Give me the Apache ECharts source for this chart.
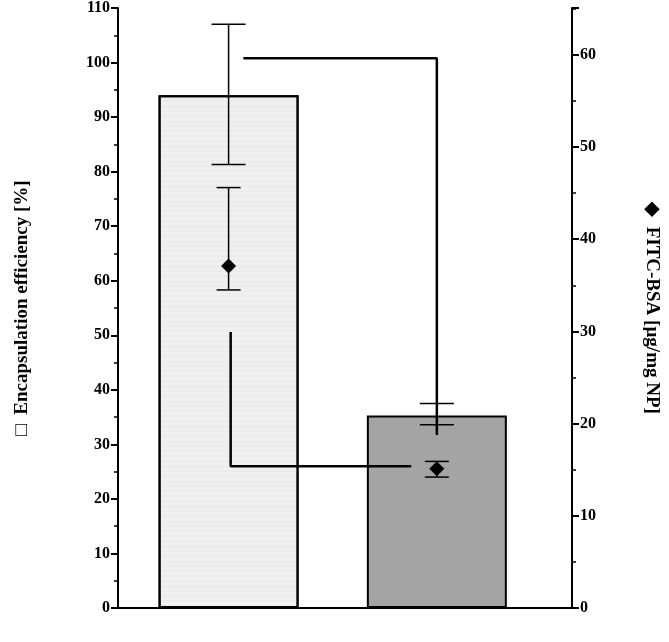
<!DOCTYPE html><html><head><meta charset="utf-8">
<script src="https://cdn.jsdelivr.net/npm/echarts@6/dist/echarts.min.js"></script>
<style>html,body{margin:0;background:#fff}#c{width:669px;height:642px}</style></head><body><div id="c"></div>
<script>
const categories=['CP-FITC-BSA-NP','FITC-BSA-NP'];
const efficiency=[94.0,35.3];
const effErrLow=[81.3,33.6];
const effErrHigh=[107.0,37.5];
const loading=[37.1,15.1];
const loadErrLow=[34.5,14.2];
const loadErrHigh=[45.6,15.9];
const bracket1=[[0.071,100.8],[1.0,100.8],[1.0,31.7]];
const bracket2=[[0.01,50.6],[0.01,26.0],[0.877,26.0]];
const stars=[[0.89,96.5],[0.13,30.5]];
const F='Liberation Serif';
const chart=echarts.init(document.getElementById('c'));
const err=(lo,hi,yi,w)=>({type:'custom',yAxisIndex:yi,z:5,data:lo.map((v,i)=>[i,v,hi[i]]),
 renderItem:(p,api)=>{const a=api.coord([api.value(0),api.value(1)]),b=api.coord([api.value(0),api.value(2)]);
 const s={stroke:'#000',lineWidth:1.5};
 return {type:'group',children:[{type:'line',shape:{x1:a[0],y1:a[1],x2:b[0],y2:b[1]},style:s},
 {type:'line',shape:{x1:a[0]-w,y1:a[1],x2:a[0]+w,y2:a[1]},style:s},
 {type:'line',shape:{x1:b[0]-w,y1:b[1],x2:b[0]+w,y2:b[1]},style:s}]};}});
const yCommon={axisLine:{show:true,onZero:false,lineStyle:{color:'#000',width:2}},axisTick:{show:true,length:7,lineStyle:{width:2}},
 minorTick:{show:true,splitNumber:2,length:4,lineStyle:{color:'#000',width:1.5}},splitLine:{show:false}};
chart.setOption({animation:false,
grid:{left:118,right:91,top:8,bottom:34},
xAxis:{type:'value',min:-0.531,max:1.649,axisLine:{show:true,onZero:false,lineStyle:{color:'#000',width:2}},axisTick:{show:false},axisLabel:{show:false},splitLine:{show:false}},
yAxis:[Object.assign({type:'value',min:0,max:110,interval:10,
 name:'\u25A1  Encapsulation efficiency [%]',nameLocation:'middle',nameGap:86,nameTextStyle:{fontFamily:F,fontWeight:'bold',fontSize:19,color:'#000'},
 axisLabel:{fontFamily:F,fontWeight:'bold',fontSize:16,color:'#000'}},yCommon),
 Object.assign({type:'value',min:0,max:65.08,interval:10,position:'right',
 name:'\u25C6  FITC-BSA [\u00B5g/mg NP]',nameLocation:'middle',nameGap:70,nameRotate:-90,nameTextStyle:{fontFamily:F,fontWeight:'bold',fontSize:19,color:'#000'},
 axisLabel:{fontFamily:F,fontWeight:'bold',fontSize:16,color:'#000',showMaxLabel:false}},yCommon)],
series:[
 {type:'bar',barWidth:140,data:efficiency.map((v,i)=>({value:[i,v],itemStyle:{color:i?'#a4a4a4':'#f0f0f0',
  decal:i?null:{symbol:'circle',symbolSize:0.4,color:'#aaa',dashArrayX:[1,0],dashArrayY:[2,3]}}})),
  itemStyle:{borderColor:'#000',borderWidth:2}},
 err(effErrLow,effErrHigh,0,17),
 err(loadErrLow,loadErrHigh,1,12),
 {type:'scatter',yAxisIndex:1,symbol:'diamond',symbolSize:15,itemStyle:{color:'#000',opacity:1},z:6,data:loading.map((v,i)=>[i,v])},
 {type:'line',data:bracket1,symbol:'none',lineStyle:{color:'#000',width:2.5},z:4},
 {type:'line',data:bracket2,symbol:'none',lineStyle:{color:'#000',width:2.5},z:4},
 {type:'scatter',symbolSize:1,itemStyle:{opacity:0},data:stars,label:{show:true,formatter:'**',fontFamily:F,fontWeight:'bold',fontSize:20,color:'#000',position:'inside'}},
 {type:'scatter',symbolSize:1,itemStyle:{opacity:0},data:categories.map((c,i)=>({value:[i,0],name:c})),
  label:{show:true,position:'bottom',distance:10,formatter:p=>p.name,fontFamily:F,fontWeight:'bold',fontSize:16,color:'#000'}}
]});
</script></body></html>
